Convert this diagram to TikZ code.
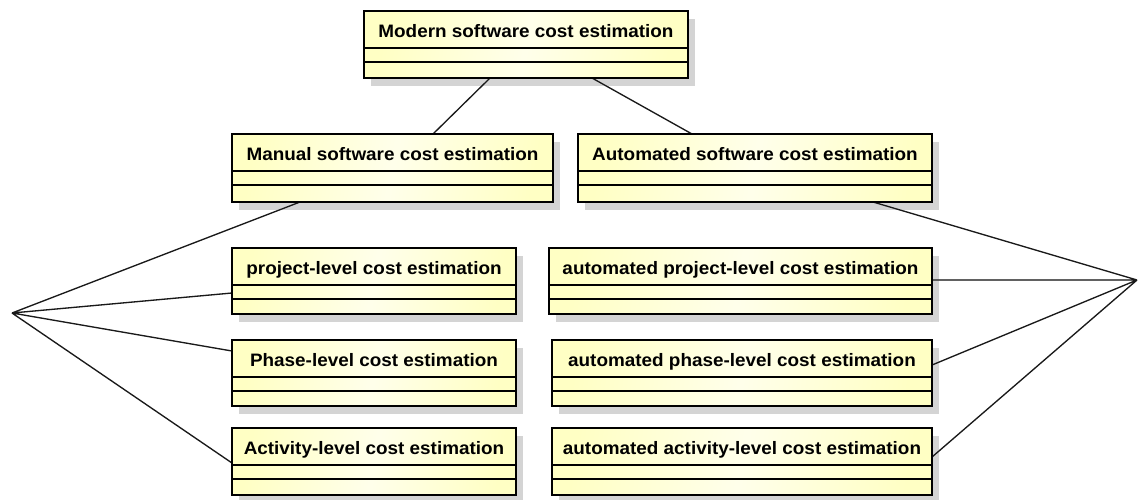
\documentclass[tikz,border=0pt]{standalone}
\usepackage{fontspec}
\setmainfont{Liberation Sans}[FakeStretch=1.05]
\definecolor{ylw}{RGB}{255,255,196}
\definecolor{shd}{RGB}{212,212,212}
\definecolor{lshd}{RGB}{222,222,222}
\tikzset{
  boxframe/.style={rectangle, draw=black, line width=2.2pt, inner sep=0pt, outer sep=0pt,
    left color=ylw, right color=ylw, middle color=ylw!35!white, shading angle=80},
  boxshadow/.style={fill=shd},
  divider/.style={line width=1.1pt, black},
  boxtext/.style={font=\fontsize{18}{21}\selectfont\bfseries, inner sep=0pt, anchor=base},
  conn/.style={line width=1.3pt, black!90},
  connshadow/.style={line width=1.2pt, lshd},
}
\newcommand\umlshadow[4]{%
  \fill[boxshadow] (#1+7,#2+8) rectangle (#3+7,#4+8);
}
\newcommand\umlclass[6]{%
  \node[boxframe, minimum width={#4-#2}, minimum height={#5-#3}, anchor=north west] (#1) at (#2,#3) {};
  \draw[divider] (#2,#3+37) -- (#4,#3+37) (#2,#3+51) -- (#4,#3+51);
  \node[boxtext] (#1-t) at ({(#2+#4)/2},#3+26) {#6};
}
\begin{document}
\begin{tikzpicture}[x=1pt,y=-1pt]
\useasboundingbox[fill=white] (0,0) rectangle (1147,499);
% junction points
\coordinate (L) at (12,313);
\coordinate (R) at (1137,280);
% connector end points on boxes
\coordinate (top-a) at (490,78);
\coordinate (top-b) at (592,78);
\coordinate (man-t) at (433,134);
\coordinate (aut-t) at (692,134);
\coordinate (man-b) at (300,202);
\coordinate (aut-b) at (873,202);
\coordinate (proj-l) at (232,293);
\coordinate (phase-l) at (232,351);
\coordinate (act-l) at (232,463);
\coordinate (aproj-r) at (932,280);
\coordinate (aphase-r) at (932,365);
\coordinate (aact-r) at (932,457);
% connector shadows
\begin{scope}[shift={(6,8)}]
\draw[connshadow] (top-a) -- (man-t) (top-b) -- (aut-t);
\draw[connshadow] (man-b) -- (L) (proj-l) -- (L) (phase-l) -- (L) (act-l) -- (L);
\draw[connshadow] (aut-b) -- (R) (aproj-r) -- (R) (aphase-r) -- (R) (aact-r) -- (R);
\end{scope}
% box shadows
\umlshadow{364}{11}{688}{78}
\umlshadow{232}{134}{553}{202}
\umlshadow{578}{134}{932}{202}
\umlshadow{232}{248}{516}{314}
\umlshadow{232}{340}{516}{406}
\umlshadow{232}{428}{516}{495}
\umlshadow{549}{248}{932}{314}
\umlshadow{552}{340}{932}{406}
\umlshadow{552}{428}{932}{495}
% connectors
\draw[conn] (top-a) -- (man-t) (top-b) -- (aut-t);
\draw[conn] (man-b) -- (L) (proj-l) -- (L) (phase-l) -- (L) (act-l) -- (L);
\draw[conn] (aut-b) -- (R) (aproj-r) -- (R) (aphase-r) -- (R) (aact-r) -- (R);
% classes
\umlclass{top}{364}{11}{688}{78}{Modern software cost estimation}
\umlclass{man}{232}{134}{553}{202}{Manual software cost estimation}
\umlclass{aut}{578}{134}{932}{202}{Automated software cost estimation}
\umlclass{proj}{232}{248}{516}{314}{project-level cost estimation}
\umlclass{phase}{232}{340}{516}{406}{Phase-level cost estimation}
\umlclass{act}{232}{428}{516}{495}{Activity-level cost estimation}
\umlclass{aproj}{549}{248}{932}{314}{automated project-level cost estimation}
\umlclass{aphase}{552}{340}{932}{406}{automated phase-level cost estimation}
\umlclass{aact}{552}{428}{932}{495}{automated activity-level cost estimation}
\end{tikzpicture}
\end{document}
